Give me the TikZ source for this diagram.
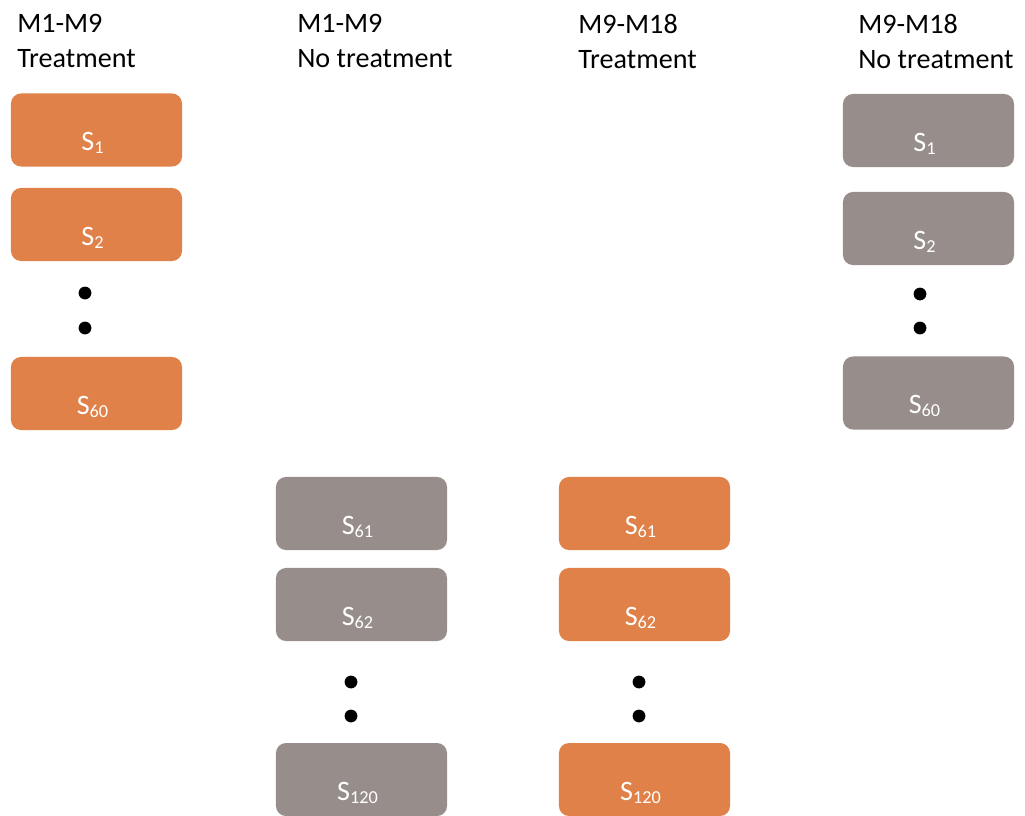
\documentclass[tikz,border=0pt]{standalone}
\usepackage{fontspec}
\setmainfont{Carlito}
\usetikzlibrary{positioning}
\definecolor{treatorange}{HTML}{DF8148}
\definecolor{restgray}{HTML}{978D8B}
\newcommand{\subj}[1]{S\raisebox{-0.12em}{\fontsize{13}{13}\selectfont #1}\kern0.2cm}

\begin{document}
\begin{tikzpicture}[x=0.025cm, y=-0.025cm,
  subjbox/.style={rounded corners=0.25cm, minimum width=4.275cm, inner xsep=0pt, inner ysep=0pt,
    text height=1.425cm, text depth=0.4cm, text=white, font=\fontsize{20}{24}\selectfont},
  treatbox/.style={subjbox, fill=treatorange},
  restbox/.style={subjbox, fill=restgray},
  ellipsisdot/.style={circle, fill=black, inner sep=0pt, minimum size=0.32cm},
  heading/.style={anchor=north west, align=left, inner sep=0pt, font=\fontsize{20}{25}\selectfont}]
  \useasboundingbox (0,0) rectangle (1025,815);

  % Spaltenköpfe
  \node[heading] (h1) at (17,14) {M1-M9\\Treatment};
  \node[heading] (h2) at (297,14) {M1-M9\\No treatment};
  \node[heading] (h3) at (578,14) {M9-M18\\Treatment};
  \node[heading] (h4) at (858,14) {M9-M18\\No treatment};

  % Gruppe 1: S1 ... S60
  \foreach \y/\n/\lbl in {130/a/1, 224.5/b/2, 393.5/c/60} {
    \node[treatbox] (t1\n) at (96.5,\y) {\subj{\lbl}};
  }
  \foreach \y/\n/\lbl in {130.5/a/1, 228.5/b/2, 393/c/60} {
    \node[restbox] (r2\n) at (928.5,\y) {\subj{\lbl}};
  }

  % Gruppe 2: S61 ... S120
  \foreach \y/\n/\lbl in {513.5/a/61, 604.5/b/62, 779.5/c/120} {
    \node[restbox] (r1\n) at (361.5,\y) {\subj{\lbl}};
    \node[treatbox] (t2\n) at (644.5,\y) {\subj{\lbl}};
  }

  % Punkte
  \node[ellipsisdot] (d1a) at (85,293) {};
  \node[ellipsisdot] (d1b) at (85,328) {};
  \node[ellipsisdot] (d2a) at (351,682) {};
  \node[ellipsisdot] (d2b) at (351,716) {};
  \node[ellipsisdot] (d3a) at (639,682) {};
  \node[ellipsisdot] (d3b) at (639,716) {};
  \node[ellipsisdot] (d4a) at (920,294) {};
  \node[ellipsisdot] (d4b) at (920,328) {};
\end{tikzpicture}
\end{document}
